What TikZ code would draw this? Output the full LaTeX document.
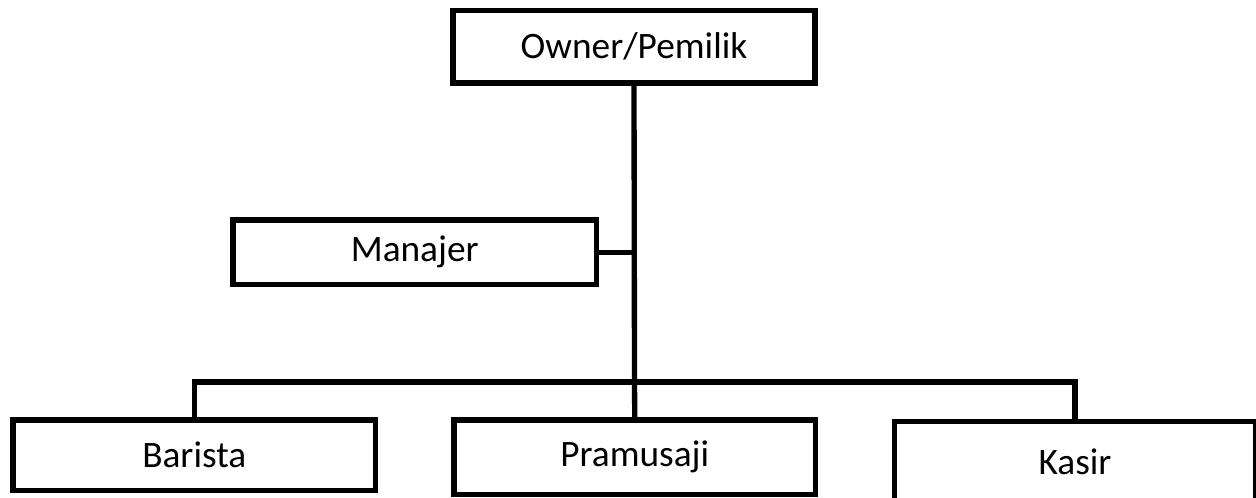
\documentclass[tikz,border=0pt]{standalone}
\usepackage{fontspec}
\setmainfont{Carlito}
\begin{document}
\begin{tikzpicture}[x=0.75pt,y=-0.75pt,
  orgbox/.style={draw=black, line width=4.4pt, fill=white, rectangle, inner sep=0pt,
    font=\fontsize{28}{32}\selectfont},
  link/.style={draw=black, line width=4pt}]
\useasboundingbox (0,0) rectangle (1256,497);
\clip (0,0) rectangle (1256,497);
\fill[white] (0,0) rectangle (1256,497);
\node[orgbox, minimum width={362.5*0.75pt}, minimum height={72.5*0.75pt}] (owner) at (634,46.75) {Owner/Pemilik};
\node[orgbox, minimum width={363.5*0.75pt}, minimum height={64.5*0.75pt}] (manajer) at (414.75,252.25) {Manajer};
\node[orgbox, minimum width={362.5*0.75pt}, minimum height={70.5*0.75pt}] (barista) at (194.25,455.25) {Barista};
\node[orgbox, minimum width={361.5*0.75pt}, minimum height={74.5*0.75pt}] (pramusaji) at (634.75,457.25) {\raisebox{-1.5pt}{Pramusaji}};
\node[orgbox, minimum width={361*0.75pt}, minimum height={84*0.75pt}] (kasir) at (1075,463.5) {\raisebox{3pt}{Kasir}};
\coordinate (hub) at (634.5,382);
\draw[link] (owner.south) -- (hub);
\draw[link] (manajer.east) -- (manajer.east -| hub);
\draw[link] (barista.north) |- (hub) -| (kasir.north);
\draw[link] (hub) -- (pramusaji.north);
\end{tikzpicture}
\end{document}
